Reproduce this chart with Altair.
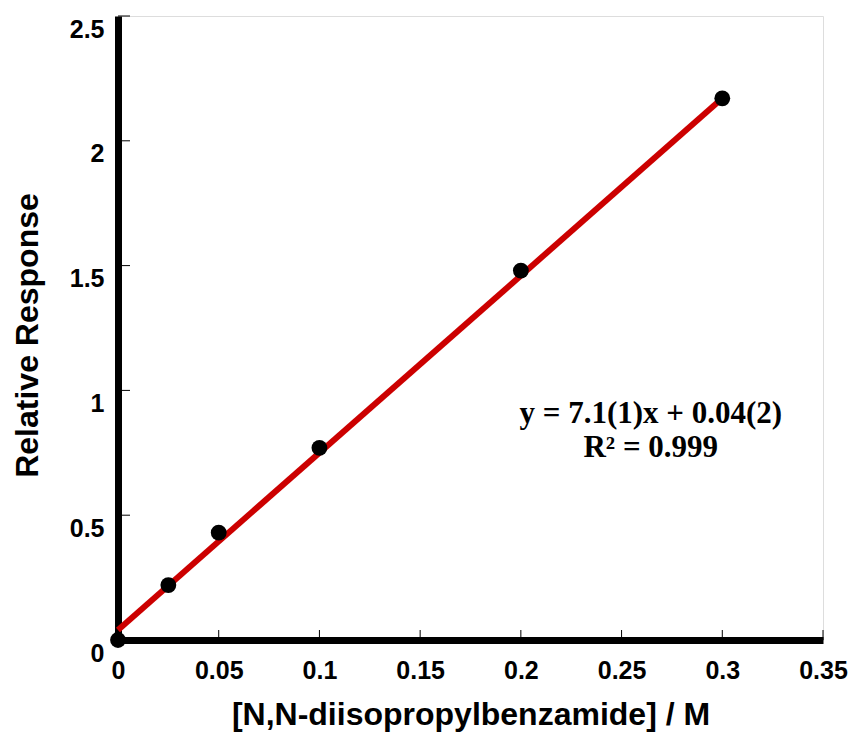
import altair as alt
import pandas as pd

# Calibration data
conc = [0.0, 0.025, 0.05, 0.1, 0.2, 0.3]
response = [0.0, 0.22, 0.43, 0.77, 1.48, 2.17]

# Linear fit reported on the chart
slope = 7.1
intercept = 0.04
fit_x = [0.0, 0.3]

x_ticks = [0, 0.05, 0.1, 0.15, 0.2, 0.25, 0.3, 0.35]
y_ticks = [0, 0.5, 1, 1.5, 2, 2.5]

W, H = 705, 624

points = pd.DataFrame({"x": conc, "y": response})
fit = pd.DataFrame({"x": fit_x, "y": [slope * v + intercept for v in fit_x]})
xt = pd.DataFrame({"x": x_ticks})
yt = pd.DataFrame({"y": y_ticks})
eq = pd.DataFrame({"x": [0.2645, 0.2645], "y": [0.905, 0.77],
                   "t": ["y = 7.1(1)x + 0.04(2)", "R² = 0.999"]})

xscale = alt.Scale(domain=[0, 0.35], nice=False, zero=True)
yscale = alt.Scale(domain=[0, 2.5], nice=False, zero=True)

xaxis = alt.Axis(values=x_ticks, labelPadding=18, labelFlush=False,
                 title="[N,N-diisopropylbenzamide] / M", titlePadding=16,
                 format="~g")
yaxis = alt.Axis(values=y_ticks, labelPadding=14, labelFlush=False,
                 labelBaseline="top", labelOffset=1,
                 title="Relative Response", titleX=-91, titleY=H / 2 + 7,
                 titleAngle=270, titleAlign="center", titleBaseline="middle",
                 format="~g")

# Inward-pointing tick marks
xticks_layer = alt.Chart(xt).mark_rule(color="black", strokeWidth=1).encode(
    x=alt.X("x:Q", scale=xscale, axis=xaxis),
    y=alt.value(H),
    y2=alt.value(H - 10),
)
yticks_layer = alt.Chart(yt).mark_rule(color="black", strokeWidth=1).encode(
    y=alt.Y("y:Q", scale=yscale, axis=yaxis),
    x=alt.value(0),
    x2=alt.value(12),
)

line = alt.Chart(fit).mark_line(color="#CC0000", strokeWidth=6).encode(
    x=alt.X("x:Q", scale=xscale), y=alt.Y("y:Q", scale=yscale)
)
dots = alt.Chart(points).mark_circle(color="black", opacity=1, size=250).encode(
    x=alt.X("x:Q", scale=xscale), y=alt.Y("y:Q", scale=yscale)
)
label = alt.Chart(eq).mark_text(font="Liberation Serif", fontWeight="bold",
                                fontSize=31, color="black", align="center",
                                baseline="middle").encode(
    x=alt.X("x:Q", scale=xscale), y=alt.Y("y:Q", scale=yscale), text="t:N"
)

chart = (
    alt.layer(xticks_layer, yticks_layer, line, dots, label)
    .properties(
        width=W, height=H,
        autosize=alt.AutoSizeParams(type="none"),
        padding={"left": 118, "top": 16, "right": 31, "bottom": 94},
    )
    .configure_view(stroke=None)
    .configure(background="white")
    .configure_axis(
        ticks=False, grid=False, domainWidth=7, domainColor="black",
        labelFont="Liberation Sans", labelFontWeight="bold", labelFontSize=25,
        labelColor="black",
        titleFont="Liberation Sans", titleFontWeight="bold", titleFontSize=32,
        titleColor="black",
    )
)

chart.save("out.html", embed_options={"renderer": "svg", "actions": False})
